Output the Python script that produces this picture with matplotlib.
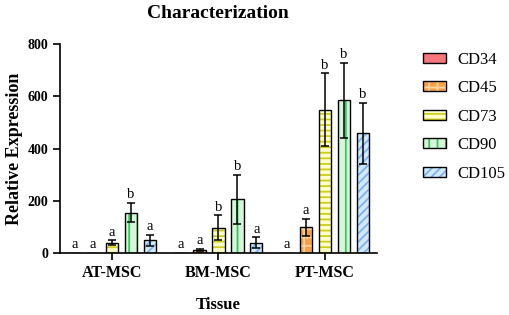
import numpy as np
import matplotlib
matplotlib.use("Agg")
import matplotlib.pyplot as plt
from matplotlib.patches import Patch

plt.rcParams['font.family'] = ['Liberation Serif', 'DejaVu Serif']
plt.rcParams['hatch.linewidth'] = 1.3

tissues = ['AT-MSC', 'BM-MSC', 'PT-MSC']
markers = ['CD34', 'CD45', 'CD73', 'CD90', 'CD105']

# mean and error per marker, one value per tissue
means = {
    'CD34': [0, 0, 0],
    'CD45': [0, 11, 98],
    'CD73': [40, 97, 548],
    'CD90': [155, 205, 585],
    'CD105': [48, 40, 458],
}
errs = {
    'CD34': [0, 0, 0],
    'CD45': [0, 5, 33],
    'CD73': [8, 47, 140],
    'CD90': [38, 95, 143],
    'CD105': [22, 20, 117],
}
letters = {
    'CD34': ['a', 'a', 'a'],
    'CD45': ['a', 'a', 'a'],
    'CD73': ['a', 'b', 'b'],
    'CD90': ['b', 'b', 'b'],
    'CD105': ['a', 'a', 'b'],
}

faces = ['#F5767C', '#F7A04A', '#FFFFCC', '#D6F5D9', '#D3E9FA']
hcols = ['#F5767C', '#FDD29C', '#CDCD1E', '#2FCB5A', '#7DB3EE']
hatches = [None, '++', '---', '||', '////']

fig = plt.figure(figsize=(5.1, 3.15), dpi=100)
ax = fig.add_axes([0.1176, 0.1968, 0.6216, 0.6635])

x = np.arange(len(tissues))
slot = 0.178
width = 0.115
handles = []
for i, m in enumerate(markers):
    pos = x + (i - 2) * slot
    v = np.array(means[m])
    e = np.array(errs[m])
    ax.bar(pos, v, width, color=faces[i], edgecolor=hcols[i], hatch=hatches[i],
           linewidth=0, zorder=2)
    ax.bar(pos, v, width, fill=False, edgecolor='black', linewidth=1.0, zorder=3)
    ok = e > 0
    ax.errorbar(pos[ok], v[ok], yerr=e[ok], fmt='none', ecolor='black',
                elinewidth=1.1, capsize=3, capthick=1.1, zorder=4)
    for p, val, er, lt in zip(pos, v, e, letters[m]):
        ax.text(p, val + er + 6, lt, ha='center', va='bottom', fontsize=10.5)
    handles.append((Patch(facecolor=faces[i], edgecolor=hcols[i], hatch=hatches[i], linewidth=0),
                    Patch(fill=False, edgecolor='black', linewidth=1.0)))

ax.set_xlim(-0.49, 2.49)
ax.set_ylim(0, 800)
ax.set_yticks([0, 200, 400, 600, 800])
ax.set_xticks(x)
ax.set_xticklabels(tissues, fontsize=11.5, fontweight='bold')
for t in ax.get_yticklabels():
    t.set_fontweight('bold')
    t.set_fontsize(10)
ax.spines['top'].set_visible(False)
ax.spines['right'].set_visible(False)
ax.spines['left'].set_linewidth(1.2)
ax.spines['bottom'].set_linewidth(1.2)
ax.tick_params(direction='out', length=5, width=1.2)

ax.set_xlabel('Tissue', fontsize=12, fontweight='bold', labelpad=12)
ax.set_ylabel('Relative Expression', fontsize=13, fontweight='bold', labelpad=3)
fig.text(0.428, 0.958, 'Characterization', ha='center', va='center',
         fontsize=14, fontweight='bold')

ax.legend(handles, markers, loc='upper left', bbox_to_anchor=(0.800, 0.884),
          bbox_transform=fig.transFigure, frameon=False, fontsize=12,
          handlelength=1.35, handleheight=0.55, handletextpad=0.72, labelspacing=0.75)

plt.savefig('out.png', dpi=100)
